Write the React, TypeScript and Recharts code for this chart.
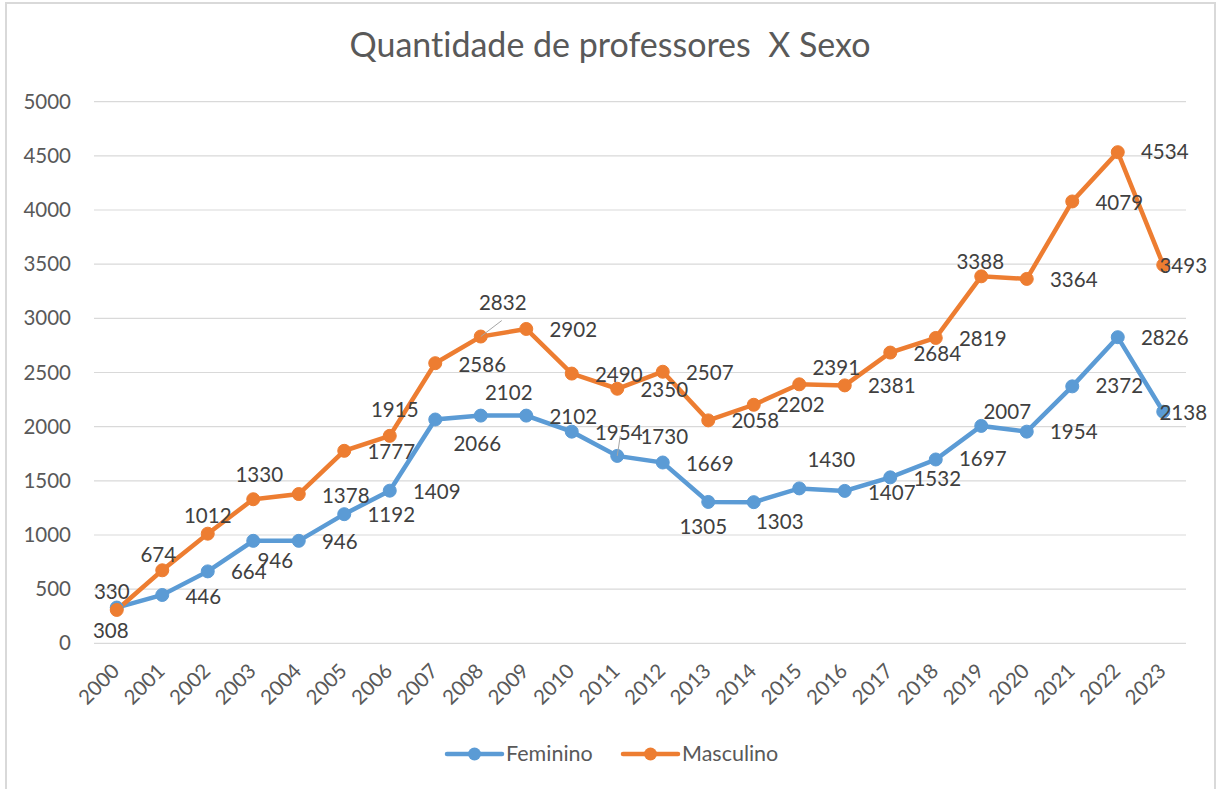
import React from 'react';
import { LineChart, Line, XAxis, YAxis, CartesianGrid, LabelList, Legend } from 'recharts';

const years = ['2000','2001','2002','2003','2004','2005','2006','2007','2008','2009','2010','2011','2012','2013','2014','2015','2016','2017','2018','2019','2020','2021','2022','2023'];
const feminino = [330,446,664,946,946,1192,1409,2066,2102,2102,1954,1730,1669,1305,1303,1430,1407,1532,1697,2007,1954,2372,2826,2138];
const masculino = [308,674,1012,1330,1378,1777,1915,2586,2832,2902,2490,2350,2507,2058,2202,2391,2381,2684,2819,3388,3364,4079,4534,3493];
const yTicks = [0,500,1000,1500,2000,2500,3000,3500,4000,4500,5000];
const title = 'Quantidade de professores  X Sexo';
const seriesNames = ['Feminino', 'Masculino'];

// label placement offsets (dx, dy of label centre from its point)
const femLabelOffsets: [number, number][] = [
  [-5,-16],[41,2],[41,1],[22,20],[41,1],[47,1],[47,1],[42,24],[28,-23],[47,1],[47,1],[47,-19],
  [47,1],[-5,25],[26,20],[32,-28],[47,2],[47,2],[47,0],[26,-14],[47,0],[47,0],[47,1],[20,1]
];
const mascLabelOffsets: [number, number][] = [
  [-6,21],[-4,-15],[0,-18],[6,-24],[47,2],[47,1],[5,-26],[47,2],[22,-34],[47,1],[47,1],[47,1],
  [47,1],[47,1],[47,0],[37,-16],[47,1],[47,1],[47,1],[-1,-14],[47,1],[47,2],[47,0],[20,1]
];
const femLeaders: Record<number, [number, number]> = { 11: [3, -20] };
const mascLeaders: Record<number, [number, number]> = { 8: [21, -16] };

const BLUE = '#5B9BD5';
const ORANGE = '#ED7D31';
const FONT = 'Lato, "Open Sans", sans-serif';

const data = years.map((y, i) => ({ year: y, fem: feminino[i], masc: masculino[i] }));

function makeLabel(offsets: [number, number][], leaders: Record<number, [number, number]>) {
  return (props: any) => {
    const { x, y, value, index } = props;
    if (x == null || y == null) return null;
    const [dx, dy] = offsets[index] ?? [47, 1];
    const leader = leaders[index];
    return (
      <g>
        {leader && (
          <line x1={x} y1={y} x2={x + leader[0]} y2={y + leader[1]} stroke="#a6a6a6" strokeWidth={1} />
        )}
        <text x={x + dx} y={y + dy + 7} textAnchor="middle" fill="#404040" fontSize={20.5} fontFamily={FONT}>
          {value}
        </text>
      </g>
    );
  };
}

const XTick = (props: any) => {
  const { x, y, payload } = props;
  return (
    <text
      x={x + 4}
      y={y + 29}
      transform={`rotate(-45, ${x + 4}, ${y + 29})`}
      textAnchor="end"
      fill="#595959"
      fontSize={20.5}
      fontFamily={FONT}
    >
      {payload.value}
    </text>
  );
};

const YTick = (props: any) => {
  const { x, y, payload } = props;
  return (
    <text x={x - 23} y={y + 7} textAnchor="end" fill="#595959" fontSize={20.5} fontFamily={FONT}>
      {payload.value}
    </text>
  );
};

const LegendContent = () => {
  const items = [
    { name: seriesNames[0], color: BLUE, x0: 447 },
    { name: seriesNames[1], color: ORANGE, x0: 623 },
  ];
  return (
    <svg width={1221} height={40} style={{ position: 'absolute', left: 0, top: 0, overflow: 'visible' }}>
      {items.map((it) => (
        <g key={it.name}>
          <line x1={it.x0} y1={20} x2={it.x0 + 55} y2={20} stroke={it.color} strokeWidth={4.5} strokeLinecap="round" />
          <circle cx={it.x0 + 27.5} cy={20} r={6.5} fill={it.color} />
          <text x={it.x0 + 59} y={27} fill="#595959" fontSize={21.5} fontFamily={FONT}>
            {it.name}
          </text>
        </g>
      ))}
    </svg>
  );
};

export default function App() {
  return (
    <div style={{ position: 'absolute', left: 0, top: 0, width: 1221, height: 789, overflow: 'hidden', background: '#fff', fontVariantLigatures: 'none' }}>
      <div
        style={{
          position: 'absolute',
          left: 5,
          top: 2,
          width: 1211,
          height: 820,
          border: '2px solid #d9d9d9',
          boxSizing: 'border-box',
        }}
      />
      <svg width={1221} height={80} style={{ position: 'absolute', left: 0, top: 0 }}>
        <text
          x={610}
          y={57}
          textAnchor="middle"
          fill="#595959"
          fontSize={34}
          fontFamily={FONT}
          style={{ whiteSpace: 'pre', fontVariantLigatures: 'none' }}
        >
          {title}
        </text>
      </svg>
      <div style={{ position: 'absolute', left: 0, top: 0 }}>
        <LineChart
          width={1221}
          height={789}
          data={data}
          margin={{ top: 101.7, right: 35, left: 0, bottom: 45.7 }}
        >
          <CartesianGrid horizontal vertical={false} stroke="#d9d9d9" strokeWidth={1.2} />
          <XAxis
            dataKey="year"
            interval={0}
            axisLine={false}
            tickLine={false}
            tickSize={0}
            tickMargin={0}
            height={100}
            padding={{ left: 22.75, right: 22.75 }}
            tick={<XTick />}
          />
          <YAxis
            domain={[0, 5000]}
            ticks={yTicks}
            axisLine={false}
            tickLine={false}
            tickSize={0}
            tickMargin={0}
            width={94}
            tick={<YTick />}
          />
          <Legend
            content={<LegendContent />}
            wrapperStyle={{ position: 'absolute', left: 0, top: 734, width: 1221, height: 0 }}
          />
          <Line
            type="linear"
            dataKey="fem"
            name={seriesNames[0]}
            stroke={BLUE}
            strokeWidth={4.5}
            dot={{ r: 6.5, fill: BLUE, stroke: BLUE, strokeWidth: 1 }}
            activeDot={false}
            isAnimationActive={false}
          />
          <Line
            type="linear"
            dataKey="masc"
            name={seriesNames[1]}
            stroke={ORANGE}
            strokeWidth={4.5}
            dot={{ r: 6.5, fill: ORANGE, stroke: ORANGE, strokeWidth: 1 }}
            activeDot={false}
            isAnimationActive={false}
          />
          <Line
            dataKey="fem"
            stroke="none"
            dot={false}
            activeDot={false}
            legendType="none"
            isAnimationActive={false}
          >
            <LabelList dataKey="fem" content={makeLabel(femLabelOffsets, femLeaders)} />
          </Line>
          <Line
            dataKey="masc"
            stroke="none"
            dot={false}
            activeDot={false}
            legendType="none"
            isAnimationActive={false}
          >
            <LabelList dataKey="masc" content={makeLabel(mascLabelOffsets, mascLeaders)} />
          </Line>
        </LineChart>
      </div>
    </div>
  );
}
